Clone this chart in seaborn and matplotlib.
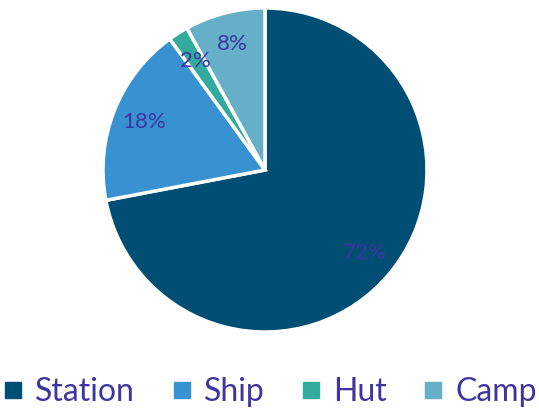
import matplotlib
matplotlib.use("Agg")
import matplotlib.pyplot as plt
import seaborn as sns
from matplotlib.lines import Line2D

categories = ["Station", "Ship", "Hut", "Camp"]
values = [72, 18, 2, 8]
colors = ["#004E73", "#3891D0", "#33AA9E", "#66AFC8"]
text_color = "#3D35A0"

sns.set_theme(style="white")
plt.rcParams['font.family'] = ['Lato', 'DejaVu Sans']

fig = plt.figure(figsize=(5.39, 4.16), dpi=100)
W, H = 539, 416
cx, cy, r = 265, 170, 162
ax = fig.add_axes([(cx - r) / W, (H - cy - r) / H, 2 * r / W, 2 * r / H])

wedges, texts, autotexts = ax.pie(
    values, colors=colors, startangle=90, counterclock=False,
    autopct=lambda p: f"{p:.0f}%", pctdistance=0.8,
    wedgeprops=dict(edgecolor="white", linewidth=2.5),
    textprops=dict(color=text_color, fontsize=16),
)
ax.set_xlim(-1, 1)
ax.set_ylim(-1, 1)
ax.set_aspect("equal")
ax.axis("off")

handles = [Line2D([0], [0], marker="s", linestyle="none", markersize=11,
                  markerfacecolor=c, markeredgecolor=c) for c in colors]
leg = fig.legend(handles, categories, loc="center", bbox_to_anchor=(0.5, (H - 392) / H),
                 ncol=4, frameon=False, fontsize=23, handletextpad=0.35,
                 columnspacing=1.1, handlelength=0.7)
for t in leg.get_texts():
    t.set_color(text_color)

fig.savefig("out.png", dpi=100)
